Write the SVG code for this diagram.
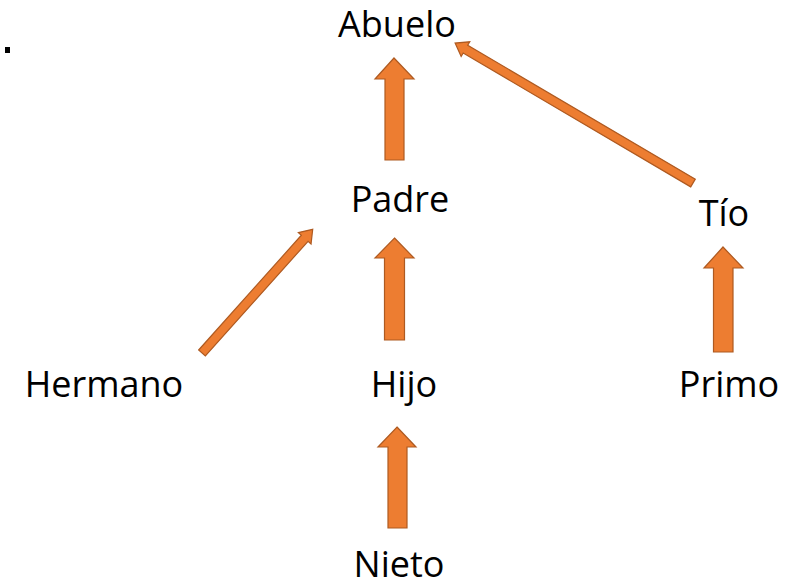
<svg xmlns="http://www.w3.org/2000/svg" width="794" height="587" viewBox="0 0 794 587">
<style>
.lbl{font-family:"Open Sans","Liberation Sans",sans-serif;font-size:36px;fill:#000;text-anchor:middle}
.arr{fill:#ED7D31;stroke:#AE5A21;stroke-width:1.2;stroke-linejoin:miter}
</style>
<rect width="794" height="587" fill="#fff"/>
<rect x="5" y="47" width="5" height="6" fill="#000"/>
<g id="connectors">
<polygon class="arr" points="394,58 414,79 404,79 404,160 385,160 385,79 375,79"/>
<polygon class="arr" points="394.5,238 414,258 404.5,258 404.5,340 384.5,340 384.5,258 375,258"/>
<polygon class="arr" points="723,247 743,268 733,268 733,352 713.5,352 713.5,268 704,268"/>
<polygon class="arr" points="397,427 416,447 407,447 407,528 388,528 388,447 378,447"/>
<polygon class="arr" transform="translate(693,183) rotate(210.47)" points="0,-4.5 264,-4.5 264,-8.5 276,0 264,8.5 264,4.5 0,4.5"/>
<polygon class="arr" transform="translate(202,353) rotate(-48.17)" points="0,-4.5 154,-4.5 154,-8.5 166,0 154,8.5 154,4.5 0,4.5"/>
</g>
<g id="abuelo"><text class="lbl" x="397" y="37">Abuelo</text></g>
<g id="padre"><text class="lbl" x="400" y="212">Padre</text></g>
<g id="tio"><text class="lbl" x="724" y="226">Tío</text></g>
<g id="hermano"><text class="lbl" x="104" y="397">Hermano</text></g>
<g id="hijo"><text class="lbl" x="404" y="397">Hijo</text></g>
<g id="primo"><text class="lbl" x="729" y="397">Primo</text></g>
<g id="nieto"><text class="lbl" x="399" y="577">Nieto</text></g>
</svg>
